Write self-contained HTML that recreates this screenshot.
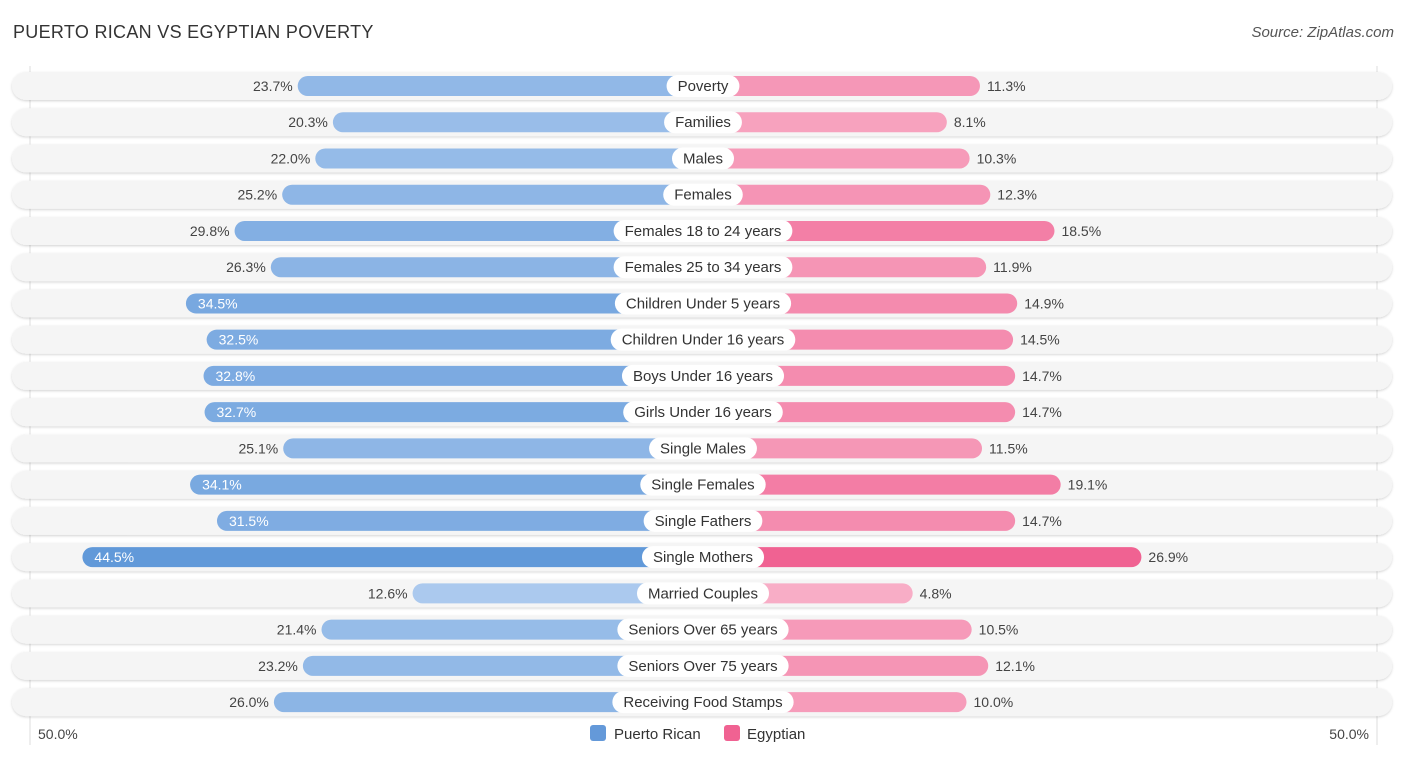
<!DOCTYPE html>
<html><head><meta charset="utf-8"><style>
body{margin:0;width:1406px;height:758px;background:#fff;font-family:"Liberation Sans",sans-serif;position:relative;overflow:hidden}
.t{position:absolute;left:13px;top:22px;font-size:18px;color:#333;letter-spacing:.3px}
.s{position:absolute;right:12px;top:24px;font-size:15px;color:#555;font-style:italic}
svg{position:absolute;left:0;top:0}
</style></head><body>
<div class="t">PUERTO RICAN VS EGYPTIAN POVERTY</div>
<div class="s">Source: ZipAtlas.com</div>
<svg id="c" width="1406" height="758"></svg>
<script>
const categories=["Poverty","Families","Males","Females","Females 18 to 24 years","Females 25 to 34 years","Children Under 5 years","Children Under 16 years","Boys Under 16 years","Girls Under 16 years","Single Males","Single Females","Single Fathers","Single Mothers","Married Couples","Seniors Over 65 years","Seniors Over 75 years","Receiving Food Stamps"];
const puertoRican=[23.7,20.3,22.0,25.2,29.8,26.3,34.5,32.5,32.8,32.7,25.1,34.1,31.5,44.5,12.6,21.4,23.2,26.0];
const egyptian=[11.3,8.1,10.3,12.3,18.5,11.9,14.9,14.5,14.7,14.7,11.5,19.1,14.7,26.9,4.8,10.5,12.1,10.0];
const axisLabels=["50.0%","50.0%"];
const NS="http://www.w3.org/2000/svg",svg=document.getElementById('c');
const cx=703,y0=86,step=36.24;
function len(v){return 160+10.35*v;}
function mk(t,a,p){const e=document.createElementNS(NS,t);for(const k in a)e.setAttribute(k,a[k]);(p||svg).appendChild(e);return e;}
function mix(a,b,t){return 'rgb('+a.map((x,i)=>Math.round(x+(b[i]-x)*t)).join(',')+')';}
const defs=mk('defs',{});
const f=mk('filter',{id:'sh',x:'-5%',y:'-50%',width:'110%',height:'200%'},defs);
mk('feDropShadow',{dx:0,dy:1,stdDeviation:1.2,'flood-color':'#000','flood-opacity':0.18},f);
mk('line',{x1:30,y1:66,x2:30,y2:745,stroke:'#ddd'});
mk('line',{x1:1377,y1:66,x2:1377,y2:745,stroke:'#ddd'});
categories.forEach((c,i)=>{
const y=y0+i*step;
const g=mk('g',{});


const bg=mk('rect',{x:12,y:y-14,width:1380,height:28,rx:14,fill:'#f5f5f5',filter:'url(#sh)'},g);


const pv=puertoRican[i],ev=egyptian[i];
const tb=Math.min(1,Math.max(0,(pv-12)/33)),tp=Math.min(1,Math.max(0,(ev-4)/23));
const lb=len(pv),lp=len(ev);
const b1=mk('rect',{x:cx-lb,y:y-10,width:lb,height:20,rx:10,fill:mix([172,202,238],[96,152,217],tb)},g);


const b2=mk('rect',{x:cx,y:y-10,width:lp,height:20,rx:10,fill:mix([248,176,200],[240,98,146],tp)},g);


const inside=pv>=30;
const t1=mk('text',{x:inside?cx-lb+12:cx-lb-5,y:y+5,'font-size':14,fill:inside?'#fff':'#444','text-anchor':inside?'start':'end'},g);
t1.textContent=pv.toFixed(1)+'%';


const t2=mk('text',{x:cx+lp+7,y:y+5,'font-size':14,fill:'#444'},g);
t2.textContent=ev.toFixed(1)+'%';


const lab=mk('text',{x:cx,y:y+5,'font-size':15,fill:'#333','text-anchor':'middle'},g);
lab.textContent=c;
const w=lab.getComputedTextLength()+22;
const pill=mk('rect',{x:cx-w/2,y:y-11,width:w,height:22,rx:11,fill:'#fff'},g);
g.insertBefore(pill,lab);




});
const a1=mk('text',{x:38,y:739,'font-size':14,fill:'#444'});a1.textContent=axisLabels[0];


const a2=mk('text',{x:1369,y:739,'font-size':14,fill:'#444','text-anchor':'end'});a2.textContent=axisLabels[1];


const l1=mk('rect',{x:590,y:725,width:16,height:16,rx:3,fill:'#6499d9'});


const lt1=mk('text',{x:614,y:739,'font-size':15,fill:'#333'});lt1.textContent='Puerto Rican';


const l2=mk('rect',{x:724,y:725,width:16,height:16,rx:3,fill:'#f06292'});


const lt2=mk('text',{x:747,y:739,'font-size':15,fill:'#333'});lt2.textContent='Egyptian';


</script>
</body></html>
